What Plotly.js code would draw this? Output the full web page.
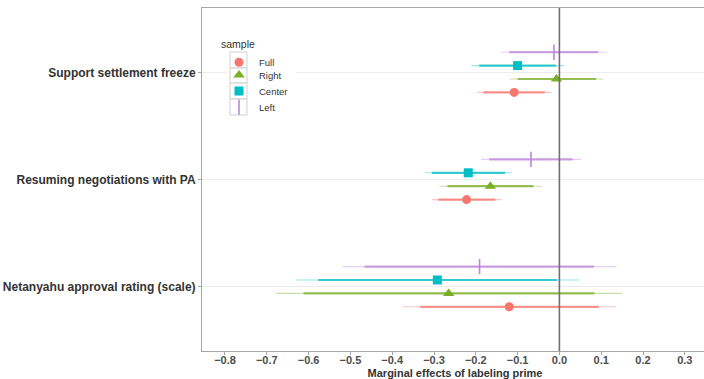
<!DOCTYPE html>
<html>
<head>
<meta charset="utf-8">
<script src="https://cdn.plot.ly/plotly-3.0.1.min.js"></script>
<style>
html,body{margin:0;padding:0;overflow:hidden;background:#fff;}
#chart{width:708px;height:392px;}
</style>
</head>
<body>
<div id="chart"></div>
<script>
// Outcomes (top to bottom)
var categories = ["Support settlement freeze", "Resuming negotiations with PA", "Netanyahu approval rating (scale)"];
var samples = ["Full", "Right", "Center", "Left"];
var tickVals = [-0.8, -0.7, -0.6, -0.5, -0.4, -0.3, -0.2, -0.1, 0.0, 0.1, 0.2, 0.3];

// Estimates and intervals per sample, in category order
var fullEst  = [-0.108, -0.222, -0.120];
var fullLo95 = [-0.197, -0.305, -0.375];
var fullHi95 = [-0.019, -0.138, 0.135];
var fullLo90 = [-0.182, -0.290, -0.333];
var fullHi90 = [-0.035, -0.153, 0.094];

var rightEst  = [-0.007, -0.165, -0.265];
var rightLo95 = [-0.119, -0.287, -0.678];
var rightHi95 = [0.105, -0.042, 0.150];
var rightLo90 = [-0.100, -0.268, -0.612];
var rightHi90 = [0.088, -0.062, 0.084];

var centerEst  = [-0.100, -0.218, -0.292];
var centerLo95 = [-0.210, -0.322, -0.631];
var centerHi95 = [0.010, -0.113, 0.048];
var centerLo90 = [-0.192, -0.305, -0.577];
var centerHi90 = [-0.008, -0.130, -0.006];

var leftEst  = [-0.013, -0.068, -0.191];
var leftLo95 = [-0.140, -0.187, -0.519];
var leftHi95 = [0.114, 0.052, 0.137];
var leftLo90 = [-0.120, -0.168, -0.466];
var leftHi90 = [0.093, 0.032, 0.083];

var colors = {Full: [246,118,110], Right: [124,174,40], Center: [0,190,196], Left: [188,135,218]};
var symbols = {Full: "circle", Right: "triangle-up", Center: "square", Left: "line-ns-open"};
var sizes = {Full: 9, Right: 10, Center: 9, Left: 11};
var offsets = {Left: 0.1875, Center: 0.0625, Right: -0.0625, Full: -0.1875};
var legendIds = {Full: "legend", Right: "legend2", Center: "legend3", Left: "legend4"};

var dataBySample = {
  Full:   [fullEst, fullLo95, fullHi95, fullLo90, fullHi90],
  Right:  [rightEst, rightLo95, rightHi95, rightLo90, rightHi90],
  Center: [centerEst, centerLo95, centerHi95, centerLo90, centerHi90],
  Left:   [leftEst, leftLo95, leftHi95, leftLo90, leftHi90]
};

function rgba(c, a){ return "rgba(" + c[0] + "," + c[1] + "," + c[2] + "," + a + ")"; }

var catPos = categories.map(function(_, i){ return categories.length - i; });
var traces = [];
samples.forEach(function(s){
  var d = dataBySample[s];
  var est = d[0], lo95 = d[1], hi95 = d[2], lo90 = d[3], hi90 = d[4];
  var ys = catPos.map(function(p){ return p + offsets[s]; });
  var c = colors[s];
  // 95% interval (thin)
  traces.push({
    type: "scatter", mode: "markers", x: est, y: ys, showlegend: false, hoverinfo: "skip",
    marker: {size: 0.1, color: "rgba(0,0,0,0)"},
    error_x: {type: "data", symmetric: false,
      array: est.map(function(v, i){ return hi95[i] - v; }),
      arrayminus: est.map(function(v, i){ return v - lo95[i]; }),
      color: rgba(c, 0.4), thickness: 1.1, width: 0}
  });
  // 90% interval (thick) with point
  var mk = {size: sizes[s], color: rgba(c, 1), symbol: symbols[s]};
  if (s === "Left") { mk.line = {color: rgba(c, 1), width: 1.6}; }
  traces.push({
    type: "scatter", mode: "markers", name: s, x: est, y: ys, legend: legendIds[s],
    marker: mk,
    error_x: {type: "data", symmetric: false,
      array: est.map(function(v, i){ return hi90[i] - v; }),
      arrayminus: est.map(function(v, i){ return v - lo90[i]; }),
      color: rgba(c, 0.75), thickness: 2.2, width: 0}
  });
});

var font = "Liberation Sans, Arial, Helvetica, sans-serif";
var legFont = {family: font, size: 9.5, color: "#333333"};
function legendAt(yPaper, anchor, withTitle){
  var L = {x: 0.0336, y: yPaper, xanchor: "left", yanchor: anchor,
    bgcolor: "rgba(0,0,0,0)", borderwidth: 0, font: legFont};
  if (withTitle) {
    L.title = {text: "sample", font: {family: font, size: 10.5, color: "#333333"}};
  }
  return L;
}

// legend background and key frames (decoration, paper coordinates)
var legendShapes = [{type: "rect", xref: "paper", yref: "paper", x0: 0.0474, x1: 0.185, y0: 0.688, y1: 0.921,
  fillcolor: "#ffffff", line: {width: 0}, layer: "above"}];
var keyEdges = [0.8717, 0.8251, 0.7813, 0.7347, 0.6880];
for (var k = 0; k < 4; k++) {
  legendShapes.push({type: "rect", xref: "paper", yref: "paper", x0: 0.0553, x1: 0.0889,
    y0: keyEdges[k + 1], y1: keyEdges[k], fillcolor: "#ffffff",
    line: {color: "#d0d0d0", width: 1}, layer: "above"});
}

var layout = {
  width: 708, height: 392,
  margin: {l: 202, r: 0, t: 8, b: 41},
  paper_bgcolor: "#ffffff", plot_bgcolor: "#ffffff",
  font: {family: font, color: "#4d4d4d"},
  xaxis: {
    range: [-0.855, 0.3555], tickvals: tickVals, tickformat: ".1f",
    showgrid: false, zeroline: false,
    showline: true, mirror: true, linecolor: "#a6a6a6", linewidth: 1,
    ticks: "outside", ticklen: 3, tickcolor: "#a6a6a6",
    ticklabelstandoff: -4,
    tickfont: {family: font, size: 11, color: "#4d4d4d", weight: "bold"},
    title: {text: "Marginal effects of labeling prime", standoff: 4,
      font: {family: font, size: 11, color: "#333333", weight: "bold"}},
    fixedrange: true
  },
  yaxis: {
    range: [0.4, 3.6], tickvals: catPos, ticktext: categories,
    showgrid: true, gridcolor: "#ececec", gridwidth: 1, zeroline: false,
    showline: true, mirror: true, linecolor: "#a6a6a6", linewidth: 1,
    ticks: "outside", ticklen: 3, tickcolor: "#a6a6a6",
    tickfont: {family: font, size: 12, color: "#333333", weight: "bold"},
    fixedrange: true
  },
  shapes: [{type: "line", xref: "x", yref: "paper", x0: 0, x1: 0, y0: 0, y1: 1,
    line: {color: "#707070", width: 1.6}, layer: "above"}].concat(legendShapes),
  legend: legendAt(0.924, "top", true),
  legend2: legendAt(0.8047, "middle", false),
  legend3: legendAt(0.758, "middle", false),
  legend4: legendAt(0.711, "middle", false),
  showlegend: true
};

Plotly.newPlot("chart", traces, layout, {displayModeBar: false, staticPlot: true});
</script>
</body>
</html>
